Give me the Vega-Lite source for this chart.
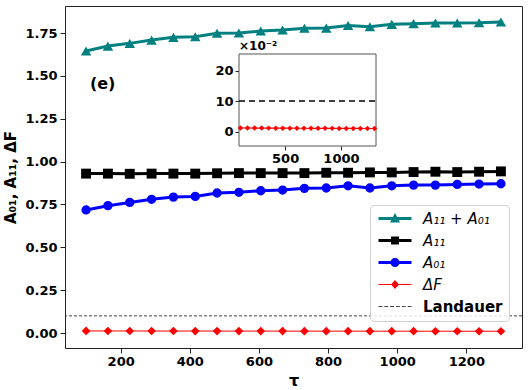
{
  "$schema": "https://vega.github.io/schema/vega-lite/v6.json",
  "width": 457,
  "height": 342,
  "autosize": {"type": "none"},
  "padding": {"left": 65, "top": 6, "right": 7, "bottom": 42},
  "config": {
    "font": "DejaVu Sans",
    "view": {"stroke": "#222", "strokeWidth": 1},
    "axis": {"grid": false, "labelColor": "#000", "tickColor": "#222", "titleColor": "#000", "labelFontWeight": "bold", "titleFontWeight": "bold", "labelFont": "DejaVu Sans", "titleFont": "DejaVu Sans"}
  },
  "datasets": {
    "main": [
      {"tau": 100, "series": "A₁₁ + A₀₁", "value": 1.645},
      {"tau": 163.16, "series": "A₁₁ + A₀₁", "value": 1.674},
      {"tau": 226.32, "series": "A₁₁ + A₀₁", "value": 1.690},
      {"tau": 289.47, "series": "A₁₁ + A₀₁", "value": 1.709},
      {"tau": 352.63, "series": "A₁₁ + A₀₁", "value": 1.725},
      {"tau": 415.79, "series": "A₁₁ + A₀₁", "value": 1.729},
      {"tau": 478.95, "series": "A₁₁ + A₀₁", "value": 1.749},
      {"tau": 542.11, "series": "A₁₁ + A₀₁", "value": 1.750},
      {"tau": 605.26, "series": "A₁₁ + A₀₁", "value": 1.762},
      {"tau": 668.42, "series": "A₁₁ + A₀₁", "value": 1.768},
      {"tau": 731.58, "series": "A₁₁ + A₀₁", "value": 1.778},
      {"tau": 794.74, "series": "A₁₁ + A₀₁", "value": 1.779},
      {"tau": 857.89, "series": "A₁₁ + A₀₁", "value": 1.794},
      {"tau": 921.05, "series": "A₁₁ + A₀₁", "value": 1.787},
      {"tau": 984.21, "series": "A₁₁ + A₀₁", "value": 1.801},
      {"tau": 1047.37, "series": "A₁₁ + A₀₁", "value": 1.805},
      {"tau": 1110.53, "series": "A₁₁ + A₀₁", "value": 1.809},
      {"tau": 1173.68, "series": "A₁₁ + A₀₁", "value": 1.809},
      {"tau": 1236.84, "series": "A₁₁ + A₀₁", "value": 1.810},
      {"tau": 1300, "series": "A₁₁ + A₀₁", "value": 1.815},
      {"tau": 100, "series": "A₁₁", "value": 0.930},
      {"tau": 163.16, "series": "A₁₁", "value": 0.930},
      {"tau": 226.32, "series": "A₁₁", "value": 0.929},
      {"tau": 289.47, "series": "A₁₁", "value": 0.930},
      {"tau": 352.63, "series": "A₁₁", "value": 0.930},
      {"tau": 415.79, "series": "A₁₁", "value": 0.930},
      {"tau": 478.95, "series": "A₁₁", "value": 0.932},
      {"tau": 542.11, "series": "A₁₁", "value": 0.933},
      {"tau": 605.26, "series": "A₁₁", "value": 0.933},
      {"tau": 668.42, "series": "A₁₁", "value": 0.933},
      {"tau": 731.58, "series": "A₁₁", "value": 0.933},
      {"tau": 794.74, "series": "A₁₁", "value": 0.935},
      {"tau": 857.89, "series": "A₁₁", "value": 0.935},
      {"tau": 921.05, "series": "A₁₁", "value": 0.937},
      {"tau": 984.21, "series": "A₁₁", "value": 0.937},
      {"tau": 1047.37, "series": "A₁₁", "value": 0.939},
      {"tau": 1110.53, "series": "A₁₁", "value": 0.941},
      {"tau": 1173.68, "series": "A₁₁", "value": 0.939},
      {"tau": 1236.84, "series": "A₁₁", "value": 0.941},
      {"tau": 1300, "series": "A₁₁", "value": 0.943},
      {"tau": 100, "series": "A₀₁", "value": 0.718},
      {"tau": 163.16, "series": "A₀₁", "value": 0.743},
      {"tau": 226.32, "series": "A₀₁", "value": 0.762},
      {"tau": 289.47, "series": "A₀₁", "value": 0.780},
      {"tau": 352.63, "series": "A₀₁", "value": 0.793},
      {"tau": 415.79, "series": "A₀₁", "value": 0.797},
      {"tau": 478.95, "series": "A₀₁", "value": 0.817},
      {"tau": 542.11, "series": "A₀₁", "value": 0.821},
      {"tau": 605.26, "series": "A₀₁", "value": 0.830},
      {"tau": 668.42, "series": "A₀₁", "value": 0.834},
      {"tau": 731.58, "series": "A₀₁", "value": 0.844},
      {"tau": 794.74, "series": "A₀₁", "value": 0.846},
      {"tau": 857.89, "series": "A₀₁", "value": 0.859},
      {"tau": 921.05, "series": "A₀₁", "value": 0.846},
      {"tau": 984.21, "series": "A₀₁", "value": 0.859},
      {"tau": 1047.37, "series": "A₀₁", "value": 0.863},
      {"tau": 1110.53, "series": "A₀₁", "value": 0.863},
      {"tau": 1173.68, "series": "A₀₁", "value": 0.867},
      {"tau": 1236.84, "series": "A₀₁", "value": 0.869},
      {"tau": 1300, "series": "A₀₁", "value": 0.871},
      {"tau": 100, "series": "ΔF", "value": 0.0121},
      {"tau": 163.16, "series": "ΔF", "value": 0.0119},
      {"tau": 226.32, "series": "ΔF", "value": 0.0118},
      {"tau": 289.47, "series": "ΔF", "value": 0.0116},
      {"tau": 352.63, "series": "ΔF", "value": 0.0115},
      {"tau": 415.79, "series": "ΔF", "value": 0.0114},
      {"tau": 478.95, "series": "ΔF", "value": 0.0113},
      {"tau": 542.11, "series": "ΔF", "value": 0.0112},
      {"tau": 605.26, "series": "ΔF", "value": 0.0111},
      {"tau": 668.42, "series": "ΔF", "value": 0.0110},
      {"tau": 731.58, "series": "ΔF", "value": 0.0109},
      {"tau": 794.74, "series": "ΔF", "value": 0.0108},
      {"tau": 857.89, "series": "ΔF", "value": 0.0108},
      {"tau": 921.05, "series": "ΔF", "value": 0.0107},
      {"tau": 984.21, "series": "ΔF", "value": 0.0106},
      {"tau": 1047.37, "series": "ΔF", "value": 0.0105},
      {"tau": 1110.53, "series": "ΔF", "value": 0.0104},
      {"tau": 1173.68, "series": "ΔF", "value": 0.0104},
      {"tau": 1236.84, "series": "ΔF", "value": 0.0103},
      {"tau": 1300, "series": "ΔF", "value": 0.0102}
    ]
  },
  "resolve": {"scale": {"x": "independent", "y": "independent"}, "axis": {"x": "independent", "y": "independent"}},
  "layer": [
    {
      "layer": [
        {
          "data": {"values": [{"level": 0.1, "series": "Landauer"}]},
          "mark": {"type": "rule", "strokeDash": [3, 2], "strokeWidth": 1},
          "encoding": {"y": {"field": "level", "type": "quantitative"}, "color": {"field": "series", "type": "nominal"}}
        },
        {
          "data": {"name": "main"},
          "transform": [{"filter": "datum.series !== 'ΔF'"}],
          "mark": {"type": "line", "strokeWidth": 3},
          "encoding": {
            "x": {"field": "tau", "type": "quantitative", "scale": {"domain": [39, 1361], "nice": false, "zero": false},
              "axis": {"orient": "bottom", "values": [200, 400, 600, 800, 1000, 1200], "format": "d", "labelFontSize": 13, "tickSize": 5, "labelPadding": 2, "domain": false, "title": "τ", "titleFontSize": 16, "titlePadding": 4}},
            "y": {"field": "value", "type": "quantitative", "scale": {"domain": [-0.0875, 1.908], "nice": false, "zero": false},
              "axis": {"orient": "left", "values": [0, 0.25, 0.5, 0.75, 1, 1.25, 1.5, 1.75], "format": ".2f", "labelFontSize": 13, "tickSize": 5, "labelPadding": 3, "domain": false, "title": "A₀₁, A₁₁, ΔF", "titleFontSize": 15, "titlePadding": 6}},
            "color": {"field": "series", "type": "nominal",
              "scale": {"domain": ["A₁₁ + A₀₁", "A₁₁", "A₀₁", "ΔF", "Landauer"], "range": ["#008080", "#000000", "#0000ff", "#ff0000", "#444444"]},
              "legend": {
                "title": null, "orient": "none", "legendX": 305, "legendY": 199,
                "padding": 6, "fillColor": "rgba(255,255,255,0.85)", "strokeColor": "#d0d0d0", "cornerRadius": 4,
                "symbolSize": 100, "labelOffset": 32, "labelFontSize": 15, "labelFont": "DejaVu Sans", "labelColor": "#000", "rowPadding": 6,
                "encode": {
                  "symbols": {"update": {
                    "shape": {"signal": "['M-1,-0.3H5.6V0.3H-1Z M2.3,-1.1L3.3,0.8L1.3,0.8Z', 'M-1,-0.3H5.6V0.3H-1Z M1.5,-0.8H3.1V0.8H1.5Z', 'M-1,-0.3H5.6V0.3H-1Z M1.4,0A0.9,0.9 0 1,1 3.2,0A0.9,0.9 0 1,1 1.4,0Z', 'M-1,-0.1H5.6V0.1H-1Z M2.3,-0.9L3.1,0L2.3,0.9L1.5,0Z', 'M-1,-0.1H-0.25V0.1H-1Z M0.17,-0.1H0.92V0.1H0.17Z M1.34,-0.1H2.09V0.1H1.34Z M2.51,-0.1H3.26V0.1H2.51Z M3.68,-0.1H4.43V0.1H3.68Z M4.85,-0.1H5.6V0.1H4.85Z'][datum.index]"},
                    "fill": {"scale": "color", "field": "value"},
                    "stroke": {"value": "transparent"},
                    "strokeWidth": {"value": 0},
                    "opacity": {"value": 1},
                    "size": {"value": 100}
                  }},
                  "labels": {"update": {
                    "fontStyle": {"signal": "datum.value === 'Landauer' ? 'normal' : 'italic'"},
                    "fontWeight": {"signal": "datum.value === 'Landauer' ? 'bold' : 'normal'"}
                  }}
                }
              }}
          }
        },
        {
          "data": {"name": "main"},
          "transform": [{"filter": "datum.series === 'ΔF'"}],
          "mark": {"type": "line", "strokeWidth": 1},
          "encoding": {
            "x": {"field": "tau", "type": "quantitative"},
            "y": {"field": "value", "type": "quantitative"},
            "color": {"field": "series", "type": "nominal"}
          }
        },
        {
          "data": {"name": "main"},
          "mark": {"type": "point", "filled": true, "opacity": 1},
          "encoding": {
            "x": {"field": "tau", "type": "quantitative"},
            "y": {"field": "value", "type": "quantitative"},
            "color": {"field": "series", "type": "nominal"},
            "shape": {"field": "series", "type": "nominal", "scale": {"domain": ["A₁₁ + A₀₁", "A₁₁", "A₀₁", "ΔF"], "range": ["triangle-up", "square", "circle", "diamond"]}, "legend": null},
            "size": {"field": "series", "type": "nominal", "scale": {"domain": ["A₁₁ + A₀₁", "A₁₁", "A₀₁", "ΔF"], "range": [110, 75, 81, 70]}, "legend": null}
          }
        },
        {
          "data": {"values": [{"tau": 111, "value": 1.45, "label": "(e)"}]},
          "mark": {"type": "text", "align": "left", "baseline": "middle", "fontSize": 16, "fontWeight": "bold", "font": "DejaVu Sans", "color": "#000"},
          "encoding": {"x": {"field": "tau", "type": "quantitative"}, "y": {"field": "value", "type": "quantitative"}, "text": {"field": "label"}}
        }
      ]
    },
    {
      "layer": [
        {
          "data": {"values": [{"x0": 87, "x1": 1314, "y0": -0.047, "y1": 0.254}]},
          "mark": {"type": "rect", "fill": "white", "stroke": "#555", "strokeWidth": 1},
          "encoding": {
            "x": {"field": "x0", "type": "quantitative", "scale": {"domain": [87, 1314], "range": [174, 311], "nice": false, "zero": false},
              "axis": {"orient": "bottom", "offset": -202, "values": [500, 1000], "format": "d", "labelFontSize": 13, "tickSize": 4, "labelPadding": 2, "domain": false, "title": null}},
            "x2": {"field": "x1"},
            "y": {"field": "y0", "type": "quantitative", "scale": {"domain": [-0.047, 0.254], "range": [140, 48], "nice": false, "zero": false},
              "axis": {"orient": "left", "offset": -174, "values": [0, 0.1, 0.2], "labelExpr": "format(datum.value*100, 'd')", "labelFontSize": 13, "tickSize": 4, "labelPadding": 2, "domain": false, "title": null}},
            "y2": {"field": "y1"}
          }
        },
        {
          "data": {"values": [{"x0": 87, "x1": 1314, "level": 0.1}]},
          "mark": {"type": "rule", "color": "#000", "strokeDash": [6, 4], "strokeWidth": 1.6},
          "encoding": {"x": {"field": "x0", "type": "quantitative"}, "x2": {"field": "x1"}, "y": {"field": "level", "type": "quantitative"}}
        },
        {
          "data": {"name": "main"},
          "transform": [{"filter": "datum.series === 'ΔF'"}],
          "mark": {"type": "line", "color": "#ff0000", "strokeWidth": 1.2},
          "encoding": {"x": {"field": "tau", "type": "quantitative"}, "y": {"field": "value", "type": "quantitative"}}
        },
        {
          "data": {"name": "main"},
          "transform": [{"filter": "datum.series === 'ΔF'"}],
          "mark": {"type": "point", "shape": "diamond", "filled": true, "opacity": 1, "color": "#ff0000", "size": 30},
          "encoding": {"x": {"field": "tau", "type": "quantitative"}, "y": {"field": "value", "type": "quantitative"}}
        },
        {
          "data": {"values": [{"x0": 87, "y1": 0.254, "label": "×10⁻²"}]},
          "mark": {"type": "text", "align": "left", "baseline": "bottom", "dy": -1, "fontSize": 12, "fontWeight": "bold", "font": "DejaVu Sans", "color": "#000"},
          "encoding": {"x": {"field": "x0", "type": "quantitative"}, "y": {"field": "y1", "type": "quantitative"}, "text": {"field": "label"}}
        }
      ]
    }
  ]
}
